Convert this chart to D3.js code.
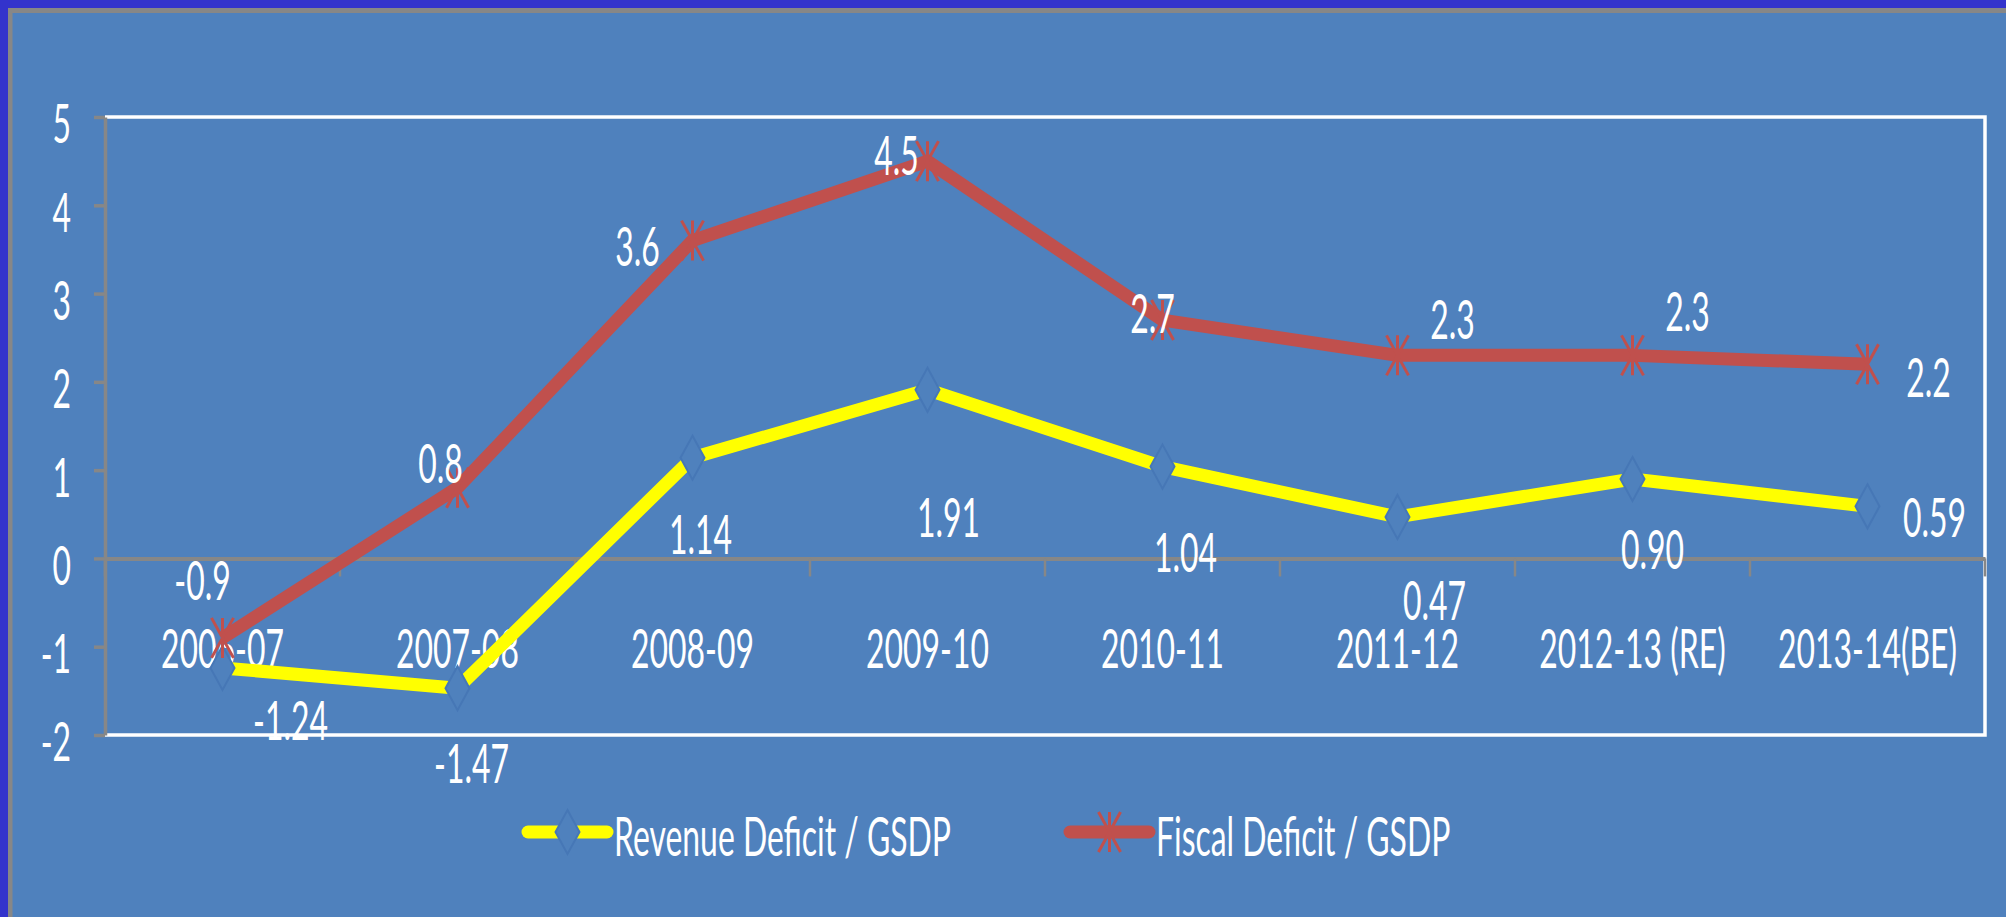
<!DOCTYPE html>
<html>
<head>
<meta charset="utf-8">
<script src="https://cdn.jsdelivr.net/npm/d3@7"></script>
<style>
html, body { margin: 0; background: #4F81BD; overflow: hidden; }
svg { display: block; }
svg text { font-family: Lato, "Open Sans", sans-serif; fill: #fff; font-size: 55px; }
</style>
</head>
<body>
<svg id="chart" width="2006" height="917"></svg>
<script>
var years = ["2006-07", "2007-08", "2008-09", "2009-10", "2010-11", "2011-12", "2012-13 (RE)", "2013-14(BE)"];
var revenueDeficit = [-1.24, -1.47, 1.14, 1.91, 1.04, 0.47, 0.90, 0.59];
var fiscalDeficit = [-0.9, 0.8, 3.6, 4.5, 2.7, 2.3, 2.3, 2.2];
var yTicks = [-2, -1, 0, 1, 2, 3, 4, 5];
var seriesNames = ["Revenue Deficit / GSDP", "Fiscal Deficit / GSDP"];

// data labels were dragged by hand in the original, offsets from marker in px
var revenueLabelOffset = [[68, 72], [14, 95], [8, 96], [21, 147], [23, 105], [37, 103], [20, 90], [67, 31]];
var fiscalLabelOffset = [[-20, -38], [-17, -5], [-55, 25], [-31, 14], [-10, 13], [55, -16], [55, -24], [61, 33]];

var bg = "#4F81BD", grey = "#878787", red = "#C0504D", yellow = "#FFFF00";
var K = 0.58; // text in the original is squashed horizontally

var svg = d3.select("#chart");

function squeeze(sel) {
  sel.each(function() {
    var w = this.getComputedTextLength();
    d3.select(this).attr("textLength", w * K).attr("lengthAdjust", "spacingAndGlyphs");
  });
}
// plain hyphen instead of d3's unicode minus
function fmt(n) { return function(d) { return d.toFixed(n); }; }

// outer frame (only top + left survive in the screenshot)
svg.append("rect").attr("x", 0).attr("y", 0).attr("width", 2006).attr("height", 917).attr("fill", bg);
svg.append("rect").attr("x", 0).attr("y", 0).attr("width", 2006).attr("height", 8).attr("fill", "#3333CC");
svg.append("rect").attr("x", 0).attr("y", 0).attr("width", 8).attr("height", 917).attr("fill", "#3333CC");
svg.append("rect").attr("x", 8).attr("y", 8).attr("width", 1998).attr("height", 5).attr("fill", grey);
svg.append("rect").attr("x", 8).attr("y", 8).attr("width", 4.5).attr("height", 909).attr("fill", grey);

var x = d3.scaleBand().domain(years).range([105, 1985]);
var y = d3.scaleLinear().domain([-2, 5]).range([735, 117]);
var cx = function(i) { return x(years[i]) + x.bandwidth() / 2; };

// plot area border
svg.append("path")
  .attr("d", "M" + x.range()[0] + "," + y(5) + " H" + x.range()[1] + " V" + y(-2) + " H" + x.range()[0])
  .attr("fill", "none").attr("stroke", "#fff").attr("stroke-width", 3.5);

// category axis sitting on zero
var xAxis = svg.append("g")
  .attr("transform", "translate(0," + y(0) + ")")
  .call(d3.axisBottom(x).tickSize(0).tickSizeOuter(0));
xAxis.select(".domain").attr("stroke", grey).attr("stroke-width", 4);
xAxis.selectAll("text").attr("y", 110).attr("dy", 0).attr("font-size", null).attr("font-family", null).call(squeeze);

xAxis.selectAll(".sep")
  .data(years.map(function(d) { return x(d); }).concat([x.range()[1]]))
  .enter().append("line")
  .attr("class", "sep")
  .attr("x1", function(d) { return d; }).attr("x2", function(d) { return d; })
  .attr("y1", 0).attr("y2", 18)
  .attr("stroke", grey).attr("stroke-width", 2.5);

// value axis
var yAxis = svg.append("g")
  .attr("transform", "translate(" + x.range()[0] + ",0)")
  .call(d3.axisLeft(y).tickValues(yTicks).tickFormat(fmt(0)).tickSize(11).tickSizeOuter(0).tickPadding(23));
yAxis.select(".domain").attr("stroke", grey).attr("stroke-width", 3.5);
yAxis.selectAll(".tick line").attr("stroke", grey).attr("stroke-width", 3.5);
yAxis.selectAll("text").attr("dy", "0.47em").attr("font-size", null).attr("font-family", null).call(squeeze);

// lines
var line = d3.line().x(function(d, i) { return cx(i); }).y(function(d) { return y(d); });

svg.append("path").datum(revenueDeficit)
  .attr("d", line).attr("fill", "none").attr("stroke", yellow)
  .attr("stroke-width", 13).attr("stroke-linejoin", "round");

svg.append("path").datum(fiscalDeficit)
  .attr("d", line).attr("fill", "none").attr("stroke", red)
  .attr("stroke-width", 13).attr("stroke-linejoin", "round");

var diamond = "M0,-22 L12,0 L0,22 L-12,0 Z";
var star = "M-11,-20 L11,20 M11,-20 L-11,20 M0,-20 L0,20";

svg.selectAll(".rev-marker")
  .data(revenueDeficit).enter().append("path")
  .attr("class", "rev-marker")
  .attr("d", diamond)
  .attr("transform", function(d, i) { return "translate(" + cx(i) + "," + y(d) + ")"; })
  .attr("fill", bg).attr("stroke", "#4677B6").attr("stroke-width", 2);

svg.selectAll(".fis-marker")
  .data(fiscalDeficit).enter().append("path")
  .attr("class", "fis-marker")
  .attr("d", star)
  .attr("transform", function(d, i) { return "translate(" + cx(i) + "," + y(d) + ")"; })
  .attr("fill", "none").attr("stroke", red).attr("stroke-width", 3);

// data labels
svg.selectAll(".rev-label")
  .data(revenueDeficit).enter().append("text")
  .attr("class", "rev-label")
  .attr("text-anchor", "middle")
  .attr("x", function(d, i) { return cx(i) + revenueLabelOffset[i][0]; })
  .attr("y", function(d, i) { return y(d) + revenueLabelOffset[i][1]; })
  .text(fmt(2))
  .call(squeeze);

svg.selectAll(".fis-label")
  .data(fiscalDeficit).enter().append("text")
  .attr("class", "fis-label")
  .attr("text-anchor", "middle")
  .attr("x", function(d, i) { return cx(i) + fiscalLabelOffset[i][0]; })
  .attr("y", function(d, i) { return y(d) + fiscalLabelOffset[i][1]; })
  .text(fmt(1))
  .call(squeeze);

// legend
var legend = svg.selectAll(".legend")
  .data(seriesNames).enter().append("g")
  .attr("class", "legend")
  .attr("transform", function(d, i) { return "translate(" + [528, 1070][i] + ",832)"; });

legend.append("line")
  .attr("x1", 0).attr("x2", 79).attr("y1", 0).attr("y2", 0)
  .attr("stroke", function(d, i) { return [yellow, red][i]; })
  .attr("stroke-width", 13).attr("stroke-linecap", "round");

legend.append("path")
  .attr("transform", "translate(39.5,0)")
  .attr("d", function(d, i) { return i == 0 ? diamond : star; })
  .attr("fill", function(d, i) { return i == 0 ? bg : "none"; })
  .attr("stroke", function(d, i) { return i == 0 ? "#4677B6" : red; })
  .attr("stroke-width", function(d, i) { return i == 0 ? 2 : 3; });

legend.append("text")
  .attr("x", 86).attr("y", 24)
  .text(function(d) { return d; })
  .call(squeeze);
</script>
</body>
</html>
